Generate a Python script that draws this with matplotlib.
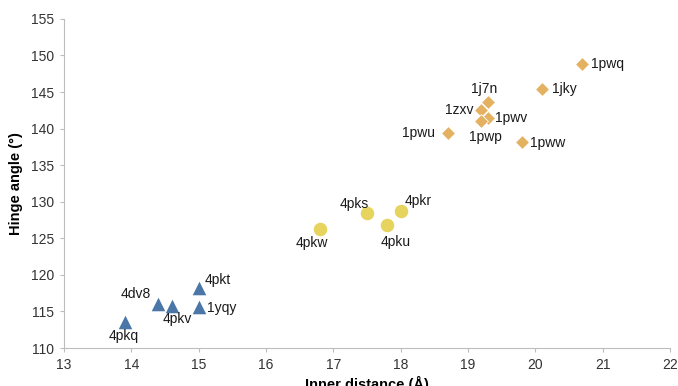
import matplotlib
matplotlib.use("Agg")
import matplotlib.pyplot as plt

plt.rcParams["font.family"] = ["Liberation Sans", "DejaVu Sans"]

# inner distance (Å) and hinge angle (°) per structure
tri_names = ["4pkq", "4dv8", "4pkv", "4pkt", "1yqy"]
tri_x = [13.9, 14.4, 14.6, 15.0, 15.0]
tri_y = [113.5, 116.0, 115.8, 118.2, 115.6]

circ_names = ["4pkw", "4pks", "4pku", "4pkr"]
circ_x = [16.8, 17.5, 17.8, 18.0]
circ_y = [126.3, 128.4, 126.8, 128.8]

dia_names = ["1pwq", "1jky", "1j7n", "1zxv", "1pwv", "1pwp", "1pwu", "1pww"]
dia_x = [20.7, 20.1, 19.3, 19.2, 19.3, 19.2, 18.7, 19.8]
dia_y = [148.8, 145.4, 143.7, 142.6, 141.5, 141.0, 139.4, 138.2]

# label offsets in points and alignment
offsets = {
    "4pkq": (-1, -10, "center"), "4dv8": (-5, 7, "right"), "4pkv": (4, -10, "center"),
    "4pkt": (4, 6, "left"), "1yqy": (6, -1, "left"),
    "4pkw": (-6, -10, "center"), "4pks": (-9, 7, "center"), "4pku": (6, -12, "center"),
    "4pkr": (3, 7, "left"),
    "1pwq": (6, 0, "left"), "1jky": (7, 0, "left"), "1j7n": (-3, 9, "center"),
    "1zxv": (-6, 0, "right"), "1pwv": (5, 0, "left"), "1pwp": (3, -11, "center"),
    "1pwu": (-9, 0, "right"), "1pww": (6, -1, "left"),
}

fig = plt.figure(figsize=(6.78, 3.86), dpi=100)
ax = fig.add_axes([0.0944, 0.0984, 0.8936, 0.8526])

ax.scatter(tri_x, tri_y, marker="^", s=95, color="#4a76a8", linewidths=0, zorder=3)
ax.scatter(circ_x, circ_y, marker="o", s=95, color="#e6d45e", linewidths=0, zorder=3)
ax.scatter(dia_x, dia_y, marker="D", s=50, color="#e3b15f", edgecolors="white",
           linewidths=0.6, zorder=3)

for names, xs, ys in [(tri_names, tri_x, tri_y), (circ_names, circ_x, circ_y),
                      (dia_names, dia_x, dia_y)]:
    for n, x, y in zip(names, xs, ys):
        dx, dy, ha = offsets[n]
        ax.annotate(n, (x, y), xytext=(dx, dy), textcoords="offset points",
                    ha=ha, va="center", fontsize=10, color="#1a1a1a")

ax.set_xlim(13, 22)
ax.set_ylim(110, 155)
ax.set_xticks(range(13, 23))
ax.set_yticks(range(110, 156, 5))
for s in ["top", "right"]:
    ax.spines[s].set_visible(False)
for s in ["left", "bottom"]:
    ax.spines[s].set_color("#bdbdbd")
ax.tick_params(colors="#bdbdbd", labelcolor="#333333", labelsize=10, length=3,
               direction="out", pad=4)
ax.set_xlabel("Inner distance (Å)", fontsize=10.5, fontweight="bold", labelpad=3)
ax.set_ylabel("Hinge angle (°)", fontsize=10.5, fontweight="bold", labelpad=6)

fig.savefig("out.png", dpi=100)
